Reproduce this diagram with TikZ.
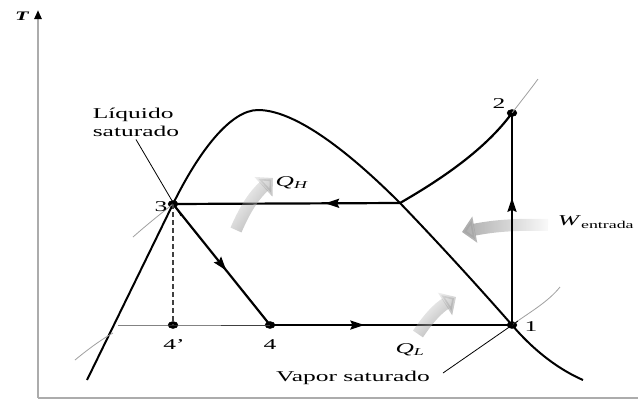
\documentclass[tikz,border=0pt]{standalone}
\usepackage{fontspec}
\setmainfont{Liberation Serif}[FakeStretch=1.7]
\usetikzlibrary{arrows.meta, decorations.markings, shapes.geometric, fadings}

\begin{document}
\begin{tikzpicture}[x=1pt, y=-1pt,
  cyc/.style={line width=2.2pt, black},
  dome/.style={line width=2pt, black},
  isobar/.style={line width=0.8pt, gray!75},
  leader/.style={line width=0.8pt, black},
  dot/.style={draw, fill, ellipse, minimum width=10pt, minimum height=7pt, inner sep=0pt},
  lab/.style={font=\fontsize{15}{18}\selectfont, inner sep=1pt},
  midarrow/.style={postaction={decorate}, decoration={markings,
    mark=at position #1 with {\arrow{Stealth[length=14pt,width=9pt,inset=2pt]}}}},
  heat/.style={line width=12pt, gray!70, -{Triangle[length=13pt, width=26pt]},
    path fading=east, fading angle=#1}
]
  \useasboundingbox (0,0) rectangle (638,405);

  % Axes
  \coordinate (origin) at (38,398);
  \coordinate (ttop) at (38,10);
  \coordinate (sright) at (638,398);
  \draw[line width=2.2pt, gray!65, -{Triangle[length=9pt,width=7pt,color=black]}] (origin) -- (ttop);
  \draw[line width=2.2pt, gray!65] (origin) -- (sright);
  \node[lab, font=\fontsize{13}{15}\selectfont\bfseries\itshape] (tlab) at (22,16) {T};

  % State points
  \node[dot] (p1) at (512,325) {};
  \node[dot] (p2) at (512,113) {};
  \node[dot] (p3) at (173,204) {};
  \node[dot] (p4) at (270,325) {};
  \node[dot] (p4p) at (173,325) {};
  \coordinate (sv) at (400,203);
  \coordinate (sl) at (118,325);

  % Saturation dome
  \draw[dome] (87,380) -- (p3.center) .. controls (198,153) and (230,110) .. (258,110)
    .. controls (300,110) and (360,163) .. (sv)
    .. controls (450,255) and (490,300) .. (p1.center)
    .. controls (535,352) and (560,370) .. (583,380);

  % Isobars
  \draw[isobar] (133,237) .. controls (150,222) and (163,212) .. (p3.center);
  \draw[isobar] (75,360) .. controls (92,346) and (104,338) .. (113,333);
  \draw[isobar] (p1.center) .. controls (530,312) and (548,302) .. (560,287);
  \draw[isobar] (p2.center) .. controls (522,100) and (530,90) .. (538,79);

  % Work arrow behind the compression line
  \draw[heat=0] (548,225) to[bend right=6] (462,232);

  % Cycle
  \draw[cyc, midarrow=0.6] (p1.center) -- (p2.center);
  \draw[cyc] (p2.center) .. controls (485,150) and (440,180) .. (sv);
  \draw[cyc, midarrow=0.33] (sv) -- (p3.center);
  \draw[cyc, midarrow=0.55] (p3.center) -- (p4.center);
  \draw[cyc, midarrow=0.39] (p4.center) -- (p1.center);
  \draw[line width=0.9pt, gray!50!black] (sl) -- (p4p.center) -- (p4.center);
  \draw[line width=1.2pt, gray!50!black, dash pattern=on 5pt off 3pt] (p3.center) -- (p4p.center);

  % Heat arrows
  \draw[heat=135] (236,230) to[bend left=12] (273,178);
  \draw[heat=135] (418,334) to[bend left=12] (456,297);

  % Labels
  \node[lab] (l1) at (531,327) {1};
  \node[lab] (l2) at (499,104) {2};
  \node[lab] (l3) at (161,207) {3};
  \node[lab] (l4) at (270,345) {4};
  \node[lab] (l4p) at (174,345) {4'};
  \node[lab] (qh) at (292,183) {\textit{Q}\textsubscript{\textit{H}}};
  \node[lab] (ql) at (410,350) {\textit{Q}\textsubscript{\textit{L}}};
  \node[lab] (win) at (596,222) {\textit{W}\textsubscript{entrada}};
  \node[lab, align=left] (liq) at (136,122) {Líquido\\saturado};
  \node[lab] (vap) at (353,378) {Vapor saturado};

  \coordinate (liqend) at (181,216);
  \coordinate (vapend) at (518,321);
  \draw[leader] (liq.south) ++(0,2) coordinate (liqstart) -- (liqend);
  \draw[leader] (443,373) coordinate (vapstart) -- (vapend);
\end{tikzpicture}
\end{document}
